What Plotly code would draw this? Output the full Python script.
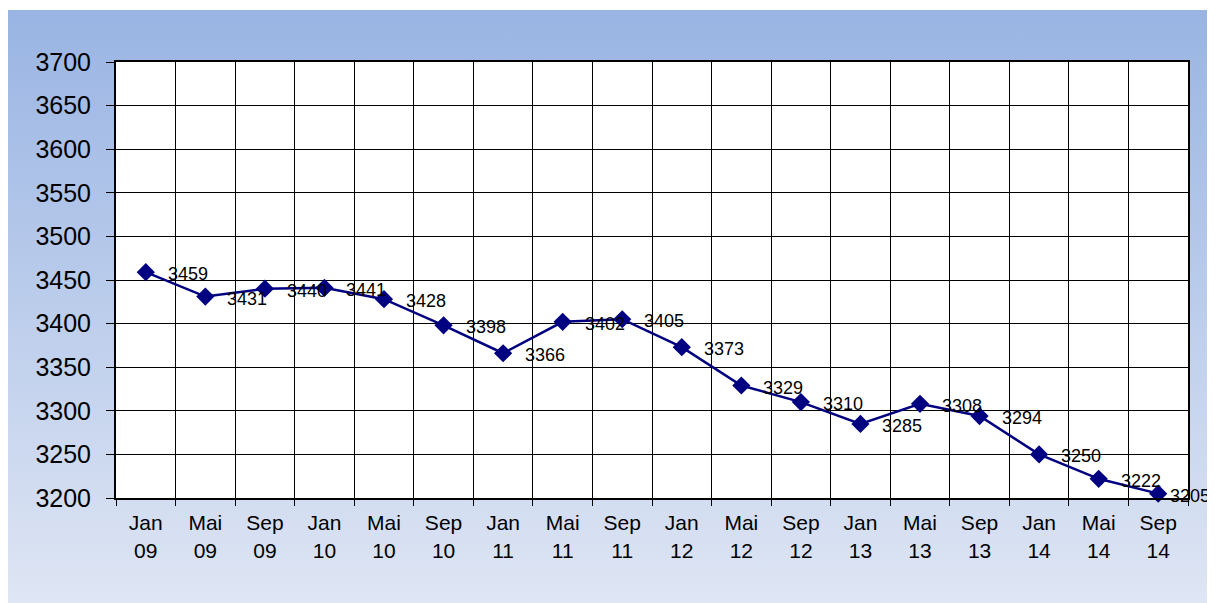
import base64
import plotly.graph_objects as go

# Datos
meses = ["Jan<br>09", "Mai<br>09", "Sep<br>09", "Jan<br>10", "Mai<br>10", "Sep<br>10",
         "Jan<br>11", "Mai<br>11", "Sep<br>11", "Jan<br>12", "Mai<br>12", "Sep<br>12",
         "Jan<br>13", "Mai<br>13", "Sep<br>13", "Jan<br>14", "Mai<br>14", "Sep<br>14"]
valores = [3459, 3431, 3440, 3441, 3428, 3398, 3366, 3402, 3405,
           3373, 3329, 3310, 3285, 3308, 3294, 3250, 3222, 3205]
y_ticks = list(range(3200, 3701, 50))

# la pagina tiene 8px de margen en el body
W, H = 1207, 595
L, R, T, B = 108, 27, 54, 105
pw, ph = W - L - R, H - T - B

# fondo degradado como imagen svg
svg = ('<svg xmlns="http://www.w3.org/2000/svg" width="100" height="100" preserveAspectRatio="none">'
       '<defs><linearGradient id="g" x1="0" y1="0" x2="0" y2="1">'
       '<stop offset="0" stop-color="#99B4E3"/><stop offset="1" stop-color="#DFE6F4"/>'
       '</linearGradient></defs><rect width="100" height="100" fill="url(#g)"/></svg>')
src = "data:image/svg+xml;base64," + base64.b64encode(svg.encode()).decode()

fig = go.Figure()
fig.add_trace(go.Scatter(
    x=meses, y=valores, mode="lines+markers",
    line=dict(color="#000080", width=2.5),
    marker=dict(symbol="diamond", size=14, color="#000080"),
    cliponaxis=False, showlegend=False,
))

# etiquetas de datos a la derecha de cada punto (la ultima mas pegada, como en Excel)
for i, (m, v) in enumerate(zip(meses, valores)):
    fig.add_annotation(x=m, y=v, text=str(v), showarrow=False,
                       xanchor="left", yanchor="middle",
                       xshift=10 if i == len(valores) - 1 else 20, yshift=-2,
                       font=dict(family="Liberation Sans, Arial", size=18, color="black"))

fig.add_layout_image(dict(
    source=src, xref="paper", yref="paper",
    x=(-2 - L) / pw, y=(H - B - 2) / ph,
    sizex=(1210 - (-2)) / pw, sizey=(600 - 2) / ph,
    xanchor="left", yanchor="top", sizing="stretch", layer="below",
))
# area del grafico blanca
fig.add_shape(type="rect", xref="x domain", yref="y domain", x0=0, x1=1, y0=0, y1=1,
              fillcolor="white", line=dict(width=0), layer="below")

fig.update_xaxes(
    type="category", tickson="boundaries", ticks="outside", ticklen=6,
    tickcolor="black", showgrid=True, gridcolor="black", gridwidth=1,
    showline=True, linecolor="black", linewidth=2, mirror=True,
    tickfont=dict(family="Liberation Sans, Arial", size=21, color="black"),
    ticklabelstandoff=5, range=[-0.5, 17.5],
)
fig.update_yaxes(
    range=[3200, 3700], tickvals=y_ticks, ticks="outside", ticklen=8,
    tickcolor="black", showgrid=True, gridcolor="black", gridwidth=1,
    showline=True, linecolor="black", linewidth=2, mirror=True,
    tickfont=dict(family="Liberation Sans, Arial", size=25, color="black"),
    ticklabelstandoff=10, zeroline=False,
)
fig.update_layout(
    width=W, height=H, margin=dict(l=L, r=R, t=T, b=B),
    paper_bgcolor="white", plot_bgcolor="white",
)
fig.write_html("out.html")
